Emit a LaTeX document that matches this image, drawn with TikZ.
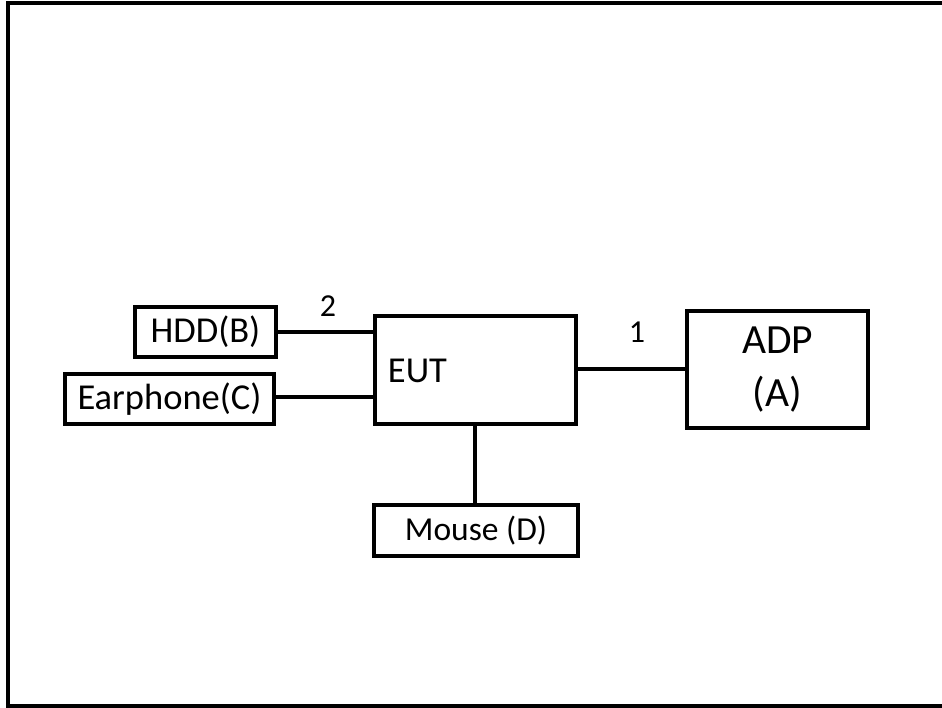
\documentclass[tikz,border=0pt]{standalone}
\usepackage{fontspec}
\setmainfont{Carlito}
\begin{document}
\begin{tikzpicture}[x=1pt,y=-1pt,
  box/.style={draw,line width=4pt,rectangle,inner sep=0pt,anchor=center},
  conn/.style={line width=3.5pt},
  txt/.style={inner sep=0pt,font=\fontsize{36.5}{42}\selectfont},
  num/.style={inner sep=0pt,font=\fontsize{32}{38}\selectfont}]
\useasboundingbox (0,0) rectangle (942,708);
\draw[line width=4pt] (950,3.5) -- (8,3.5) -- (8,705.5) -- (950,705.5);
\node[box,minimum width=141pt,minimum height=50pt,txt] (hdd) at (205.5,332) {HDD(B)};
\node[box,minimum width=209pt,minimum height=50pt,txt] (ear) at (169.5,399) {Earphone(C)};
\node[box,minimum width=201pt,minimum height=108pt] (eut) at (475.5,370) {};
\node[txt] (eutlabel) at (417.5,371) {EUT};
\node[box,minimum width=181pt,minimum height=117pt,align=center,font=\fontsize{41.5}{53}\selectfont] (adp) at (777.5,369.5) {ADP\\(A)};
\node[box,minimum width=204pt,minimum height=51pt,font=\fontsize{33.5}{40}\selectfont] (mouse) at (476,530.5) {Mouse (D)};
\draw[conn] (hdd.east) -- (hdd.east -| eut.west);
\draw[conn] ([yshift=2pt]ear.east) -- ([yshift=2pt]ear.east -| eut.west);
\draw[conn] (eut.east |- 0,369) -- (adp.west |- 0,369);
\draw[conn] (eut.south -| 475,0) -- (mouse.north -| 475,0);
\node[num] (n2) at (328,306) {2};
\node[num] (n1) at (637,332) {1};
\end{tikzpicture}
\end{document}
